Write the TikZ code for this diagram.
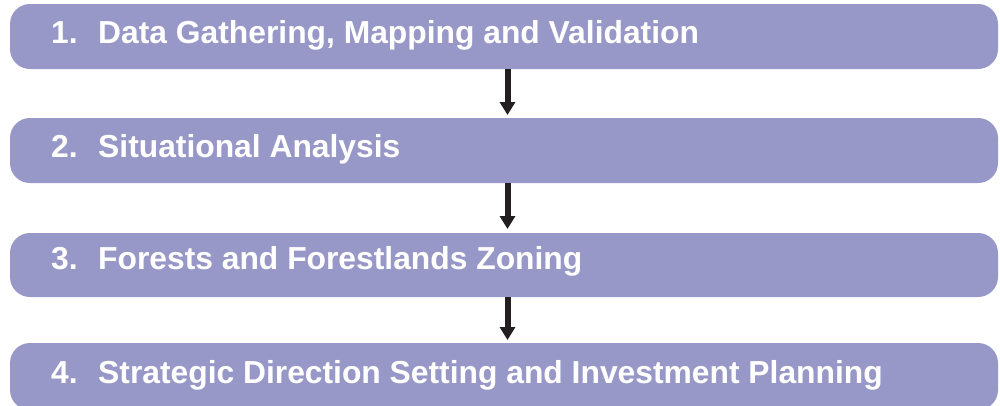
\documentclass[tikz,border=0pt]{standalone}
\usepackage{fontspec}
\setmainfont{Liberation Sans}
\usetikzlibrary{arrows.meta}
\definecolor{boxfill}{RGB}{152,152,200}
\definecolor{arrowc}{RGB}{35,31,32}
\begin{document}
\begin{tikzpicture}[x=1pt,y=-1pt,
  stagebox/.style={fill=boxfill,draw=none,rounded corners=20pt},
  numtxt/.style={anchor=base west,inner sep=0pt,text=white,font=\bfseries\fontsize{31.8}{36}\selectfont},
  arr/.style={draw=arrowc,line width=6pt,-{Triangle[width=15pt,length=13pt]}}]
\useasboundingbox (0,0) rectangle (1000,405);
\fill[stagebox] (10,4) rectangle (998,69);
\fill[stagebox] (10,118) rectangle (998,183);
\fill[stagebox] (10,233) rectangle (998,297);
\fill[stagebox] (10,343) rectangle (998,410);
\coordinate (b1) at (507.5,69);
\coordinate (t2) at (507.5,115);
\coordinate (b2) at (507.5,183);
\coordinate (t3) at (507.5,229);
\coordinate (b3) at (507.5,297);
\coordinate (t4) at (507.5,340);
\node[numtxt] (n1) at (51,43.3) {1.};
\node[numtxt] (l1) at (98,43.3) {Data Gathering, Mapping and Validation};
\node[numtxt] (n2) at (51,157) {2.};
\node[numtxt] (l2) at (98,157) {Situational Analysis};
\node[numtxt] (n3) at (51,269) {3.};
\node[numtxt] (l3) at (98,269) {Forests and Forestlands Zoning};
\node[numtxt] (n4) at (51,383) {4.};
\node[numtxt] (l4) at (98,383) {Strategic Direction Setting and Investment Planning};
\draw[arr] (b1) -- (t2);
\draw[arr] (b2) -- (t3);
\draw[arr] (b3) -- (t4);
\end{tikzpicture}
\end{document}
